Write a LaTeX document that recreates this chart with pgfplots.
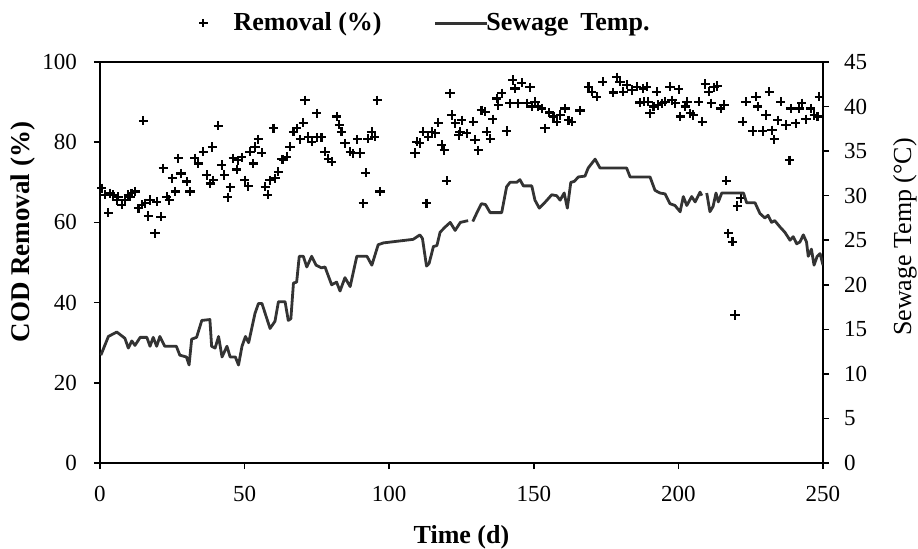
\documentclass[border=0pt]{standalone}
\usepackage{fontspec}
\setmainfont{Liberation Serif}
\usepackage{pgfplots}
\pgfplotsset{compat=1.18}
\definecolor{lineg}{HTML}{333333}
\pgfplotsset{mylinelegend/.style={legend image code/.code={\draw[##1] (0pt,0pt) -- (26pt,0pt);}}}
\begin{document}
\begin{tikzpicture}
\path[use as bounding box] (-50pt,-42.5pt) rectangle (409pt,231.5pt);
\begin{axis}[
  at={(0,0)}, anchor=south west,
  scale only axis, width=361.5pt, height=200.5pt,
  xmin=0, xmax=250, ymin=0, ymax=100,
  xtick={0,50,100,150,200,250}, ytick={0,20,40,60,80,100},
  xtick pos=bottom, ytick pos=left,
  tick align=outside, major tick length=3pt,
  axis line style={black, line width=0.9pt},
  every tick/.style={black, line width=0.8pt},
  /pgf/number format/assume math mode=true,
  ticklabel style={font=\fontsize{11.5}{13}\selectfont},
  xticklabel style={yshift=-5pt},
  yticklabel style={xshift=-5pt},
  xlabel={\textbf{Time (d)}},
  xlabel style={at={(axis description cs:0.5,0)}, anchor=center, yshift=-37pt, font=\fontsize{13}{15}\selectfont},
  ylabel={\textbf{COD Removal (\%)}},
  ylabel style={at={(axis description cs:-0.1065,0.576)}, anchor=center, rotate=0, font=\fontsize{13.5}{15}\selectfont},
  legend columns=2,
  legend style={at={(axis description cs:0.1367,1.097)}, anchor=west, draw=none, fill=none,
     font=\bfseries\fontsize{13}{15}\selectfont, inner sep=0pt},
  legend cell align=left,
]
\addlegendimage{only marks, mark=+, mark size=2.1pt, line width=1.05pt, black}
\addlegendentry{\hspace*{11pt}Removal (\%)\hspace*{24pt}}
\addlegendimage{lineg, line width=1.4pt, mylinelegend}
\addlegendentry{\hspace*{-3pt}Sewage\hspace{0.45em}Temp.}
\addplot[only marks, mark=+, mark size=2.3pt, line width=1.05pt, black, forget plot] table {
x y
0.6 68.5
1.7 66.9
2.9 62.4
3.5 67.3
4.6 66.9
5.8 65.6
6.3 66.4
7.5 64.4
8.6 65.6
9.8 66.9
10.4 66.4
10.9 67.3
12.1 67.7
13.3 63.5
14.4 64.4
15.0 85.4
15.6 64.8
16.7 61.6
17.3 65.6
19.0 57.3
19.6 65.2
21.1 61.4
21.9 73.5
23.1 66.4
23.9 65.6
25.0 71.0
26.0 67.7
27.1 76.0
28.0 72.2
30.0 70.2
31.1 67.7
32.8 76.0
34.0 74.7
35.7 77.6
36.9 71.8
38.1 69.7
38.8 78.8
39.2 70.5
40.9 84.1
42.1 74.3
43.0 71.8
44.2 66.3
45.0 68.8
46.1 76.0
47.3 73.2
47.8 75.5
49.0 76.2
50.1 70.5
51.3 69.0
51.9 77.6
53.0 74.7
53.6 78.8
54.7 80.7
55.9 77.4
57.1 68.9
58.0 66.9
58.8 70.5
60.0 83.5
60.5 71.0
61.7 72.6
62.8 75.7
63.4 75.6
64.6 76.4
65.7 78.9
66.9 82.6
68.0 83.5
69.2 80.7
70.3 84.9
70.9 90.5
72.0 81.4
73.2 80.1
74.9 87.2
74.9 81.2
76.6 81.2
77.8 77.6
78.9 75.9
80.1 75.1
81.8 86.4
82.7 84.4
83.5 82.6
84.7 79.7
86.5 77.6
87.6 77.2
89.0 80.7
89.9 77.3
91.0 64.8
91.9 72.4
92.7 80.9
93.9 82.6
95.0 81.4
95.9 90.5
96.8 67.7
108.9 77.3
109.5 80.1
110.6 79.8
111.8 82.6
112.9 64.8
113.5 81.4
114.7 82.6
115.9 82.2
117.0 84.9
118.2 79.3
119.0 78.0
119.9 70.4
121.0 92.2
121.6 86.8
122.8 84.7
124.0 81.8
124.5 82.6
125.1 85.5
126.8 82.2
129.1 85.1
129.7 80.6
130.8 78.0
131.9 88.0
133.1 87.6
133.7 82.6
134.9 80.9
135.8 85.7
137.2 90.9
137.7 89.3
138.9 92.2
140.6 82.8
141.8 89.7
142.7 95.5
143.5 93.4
144.6 89.7
145.8 94.8
147.5 89.7
148.7 93.7
149.3 88.9
150.4 90.1
151.6 88.9
152.7 88.4
153.9 83.5
155.4 87.4
156.8 86.4
157.9 85.1
159.1 86.8
160.8 88.4
162.0 85.5
163.1 85.1
166.0 87.9
168.9 93.8
170.0 92.6
171.8 91.3
173.8 95.1
177.5 92.4
178.7 96.2
179.8 95.1
181.0 92.6
182.1 94.3
183.9 93.0
185.6 93.8
186.7 89.9
187.9 93.4
189.0 93.8
188.2 90.1
189.6 90.1
190.2 87.2
191.4 88.9
192.5 92.6
193.1 89.3
194.3 89.7
195.4 90.1
197.1 93.8
197.8 90.5
198.9 89.7
200.1 93.2
200.7 86.4
202.4 88.9
203.0 90.1
204.1 87.2
205.2 86.8
207.0 90.1
208.2 85.1
209.3 94.5
210.5 92.6
211.4 89.7
212.3 93.7
213.4 94.0
214.6 88.4
215.8 89.3
216.6 70.4
217.3 57.3
218.7 55.2
219.6 36.9
220.4 64.1
221.6 66.0
222.2 85.1
223.4 90.1
225.7 82.8
226.8 91.3
227.4 88.9
229.1 82.8
230.3 86.8
231.4 92.6
232.4 83.0
233.1 80.7
234.3 85.5
235.4 90.1
237.2 84.3
238.4 75.5
238.9 88.4
240.6 84.7
241.8 88.4
242.7 89.7
244.1 85.7
245.8 88.4
247.0 86.8
248.1 86.4
248.7 91.3
};
\end{axis}
\begin{axis}[
  at={(0,0)}, anchor=south west,
  scale only axis, width=361.5pt, height=200.5pt,
  xmin=0, xmax=250, ymin=0, ymax=45,
  axis x line=none, axis y line*=right,
  ytick={0,5,...,45},
  tick align=outside, major tick length=3pt,
  axis line style={black, line width=0.9pt},
  every tick/.style={black, line width=0.8pt},
  /pgf/number format/assume math mode=true,
  ticklabel style={font=\fontsize{11.5}{13}\selectfont},
  yticklabel style={xshift=4pt},
  ylabel={Sewage Temp (\textdegree C)},
  ylabel style={at={(axis description cs:1.1134,0.5636)}, anchor=center, rotate=0, font=\fontsize{13}{15}\selectfont},
  unbounded coords=jump,
]
\addplot[lineg, line width=1.4pt, line join=round] table {
x y
0.3 12.1
2.9 14.2
5.8 14.7
8.6 14.0
9.8 12.9
11.0 13.7
12.1 13.2
13.9 14.1
16.2 14.1
17.3 13.1
18.4 14.1
19.6 13.1
20.7 14.2
22.4 13.1
26.4 13.1
27.6 12.1
29.9 11.9
30.8 11.0
31.7 13.9
33.4 14.1
35.2 16.0
38.0 16.1
38.6 13.1
39.8 12.9
41.0 14.2
42.2 11.9
43.9 13.1
45.0 11.9
46.8 11.9
47.9 11.0
49.1 13.1
50.3 14.2
51.4 13.5
53.6 16.8
54.8 17.9
56.0 17.9
57.1 16.8
58.8 15.1
60.5 15.9
61.7 18.1
64.0 18.1
65.1 16.0
66.0 16.2
66.9 20.2
68.0 20.3
68.9 23.2
70.3 23.2
71.5 22.0
73.2 23.2
74.7 22.2
76.6 21.9
77.8 22.0
80.1 20.0
81.8 20.3
83.0 19.3
84.7 20.8
86.5 19.8
88.8 23.2
92.3 23.2
94.0 22.2
96.2 24.5
98.0 24.7
108.3 25.1
110.6 25.6
111.5 25.2
112.9 22.1
113.8 22.4
115.3 24.3
116.5 24.4
117.6 25.9
119.4 26.5
121.1 27.0
122.8 26.1
124.6 27.0
127.3 27.2
128.1 nan
128.9 27.1
130.2 28.0
131.9 29.1
133.3 29.0
134.9 28.1
138.9 28.1
140.6 31.0
141.8 31.5
144.1 31.5
145.2 31.8
146.4 31.1
149.3 31.1
150.4 29.5
151.9 28.6
154.0 29.3
156.2 30.1
157.9 30.0
159.1 29.5
160.5 30.3
161.6 28.6
162.8 31.5
164.0 31.6
165.4 32.1
167.7 32.2
168.8 33.1
171.2 34.1
172.9 33.1
182.1 33.1
183.3 32.1
190.2 32.1
191.9 30.6
193.6 30.3
195.4 30.2
197.1 29.1
198.8 28.9
200.6 28.2
201.7 29.9
202.9 28.9
204.6 29.9
205.8 29.3
207.5 30.4
208.1 30.0
208.9 nan
209.8 30.3
210.9 28.2
212.0 28.8
213.0 30.3
213.8 29.3
215.0 30.3
222.5 30.3
223.6 29.2
226.5 29.2
228.2 28.0
229.9 27.5
231.0 27.8
232.2 27.0
233.3 27.2
235.1 26.5
236.8 25.9
238.6 25.0
239.7 25.4
240.9 24.6
242.0 24.8
243.2 25.6
244.3 24.8
244.9 23.2
246.0 24.0
246.9 22.2
248.0 23.2
249.0 23.5
250.0 22.2
};
\end{axis}
\end{tikzpicture}
\end{document}
